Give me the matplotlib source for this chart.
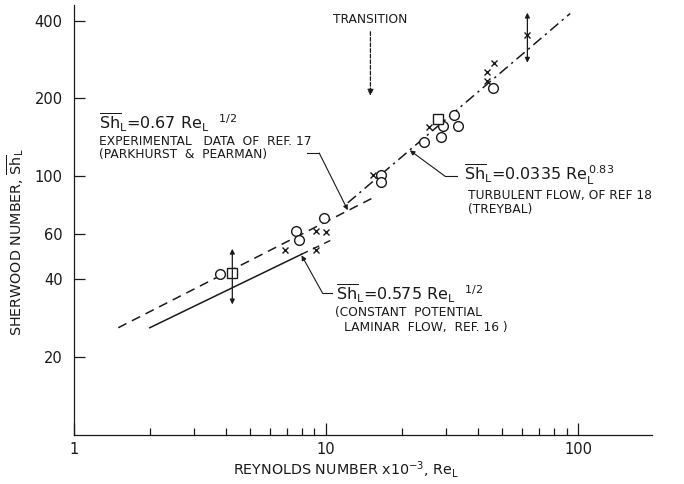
import matplotlib
matplotlib.use("Agg")
import matplotlib.pyplot as plt
from matplotlib.ticker import FixedLocator, NullFormatter

plt.rcParams["font.family"] = ["DejaVu Sans"]
plt.rcParams["mathtext.fontset"] = "dejavusans"

# data (Re in units of 10^3)
circle_re = [3.8, 7.6, 7.8, 9.8, 16.5, 16.5, 24.4, 28.7, 29.2, 32.2, 33.3, 46.0]
circle_sh = [42, 61.5, 57, 69, 101, 95, 136, 142, 157, 173, 156, 220]
cross_re = [6.9, 9.1, 9.1, 10.0, 15.3, 25.5, 43.3, 43.3, 46.5, 62.9]
cross_sh = [52, 52, 61.5, 61, 101, 155, 234, 252, 273, 353]
square_re = [4.25, 27.7]
square_sh = [42.5, 166]

# scatter ranges shown as double arrows
range_re = [4.25, 62.9]
range_lo = [32, 275]
range_hi = [52.5, 429]

# correlation lines (end points)
exp_re = [1.5, 15.5]
exp_sh = [26, 83]
lam_re = [2.0, 8.0]
lam_sh = [26, 50]
lam_ext_re = [8.0, 10.4]
lam_ext_sh = [50, 56.5]
turb_re = [12.2, 93]
turb_sh = [79, 426]

transition_re = 15.0

xticks_major = [1, 10, 100]
xticks_minor = [2, 3, 4, 5, 6, 7, 8, 9, 20, 30, 40, 50, 60, 70, 80, 90]
yticks = [20, 40, 60, 100, 200, 400]

ink = "#1a1a1a"
small = 8.8

fig = plt.figure(figsize=(6.84, 4.84), dpi=100)
ax = fig.add_axes([0.108, 0.101, 0.845, 0.889])
ax.set_xscale("log")
ax.set_yscale("log")
ax.set_xlim(1, 196)
ax.set_ylim(10, 460)

ax.plot(exp_re, exp_sh, color=ink, lw=1.1, dashes=(6, 4))
ax.plot(lam_re, lam_sh, color=ink, lw=1.1)
ax.plot(lam_ext_re, lam_ext_sh, color=ink, lw=1.0, dashes=(5, 4))
ax.plot(turb_re, turb_sh, color=ink, lw=1.1, dashes=(7, 3, 1.5, 3))

ax.plot(circle_re, circle_sh, "o", ms=7, mfc="white", mec=ink, mew=1.0)
ax.plot(square_re, square_sh, "s", ms=7, mfc="white", mec=ink, mew=1.0)
ax.plot(cross_re, cross_sh, "x", ms=5, color=ink, mew=1.0)

for r, lo, hi in zip(range_re, range_lo, range_hi):
    ax.annotate("", xy=(r, hi), xytext=(r, lo),
                arrowprops=dict(arrowstyle="<|-|>", color=ink, lw=0.9,
                                mutation_scale=7, shrinkA=0, shrinkB=0))

# transition marker
ax.annotate("", xy=(transition_re, 205), xytext=(transition_re, 362),
            arrowprops=dict(arrowstyle="-|>", color=ink, lw=0.9, ls=(0, (3, 1.5)),
                            mutation_scale=9, shrinkA=0, shrinkB=0))
ax.text(transition_re, 403, "TRANSITION", fontsize=8.8, ha="center", va="center",
        color=ink)

sh = r"$\overline{\mathrm{Sh}}_\mathrm{L}$"
re = r"$\mathrm{Re}_\mathrm{L}$"

# label for 0.67 line
ax.text(1.26, 161, sh + "=0.67 " + re + r"$\ \ ^{1/2}$", fontsize=11.5, va="center",
        color=ink)
ax.text(1.26, 136, "EXPERIMENTAL   DATA  OF  REF. 17",
        fontsize=small, va="center", color=ink)
ax.text(1.26, 121.5, "(PARKHURST  &  PEARMAN)", fontsize=small, va="center",
        color=ink)
ax.plot([8.4, 9.4], [123, 123], color=ink, lw=0.8)
ax.annotate("", xy=(12.2, 74), xytext=(9.4, 123),
            arrowprops=dict(arrowstyle="-|>", color=ink, lw=0.8,
                            mutation_scale=7, shrinkA=0, shrinkB=0))

# label for turbulent line
ax.text(35.4, 101, sh + "=0.0335 " + r"$\mathrm{Re}_\mathrm{L}^{\,0.83}$",
        fontsize=11.5, va="center", color=ink)
ax.text(36.5, 84, "TURBULENT FLOW, OF REF 18",
        fontsize=small, va="center", color=ink)
ax.text(36.5, 74.5, "(TREYBAL)", fontsize=small, va="center", color=ink)
ax.plot([29.7, 33.2], [100, 100], color=ink, lw=0.8)
ax.annotate("", xy=(21.5, 126), xytext=(29.7, 100),
            arrowprops=dict(arrowstyle="-|>", color=ink, lw=0.8,
                            mutation_scale=7, shrinkA=0, shrinkB=0))

# label for laminar line
ax.text(11.0, 35.3, sh + "=0.575 " + re + r"$\ \ ^{1/2}$", fontsize=11.5,
        va="center", color=ink)
ax.text(10.9, 29.9, "(CONSTANT  POTENTIAL", fontsize=small, va="center",
        color=ink)
ax.text(11.8, 26.0, "LAMINAR  FLOW,  REF. 16 )",
        fontsize=small, va="center", color=ink)
ax.plot([9.7, 10.6], [35.3, 35.3], color=ink, lw=0.8)
ax.annotate("", xy=(8.0, 49.5), xytext=(9.7, 35.3),
            arrowprops=dict(arrowstyle="-|>", color=ink, lw=0.8,
                            mutation_scale=7, shrinkA=0, shrinkB=0))

# axes styling
for s in ["top", "right"]:
    ax.spines[s].set_visible(False)
for s in ["left", "bottom"]:
    ax.spines[s].set_linewidth(0.9)
    ax.spines[s].set_color(ink)

ax.xaxis.set_major_locator(FixedLocator(xticks_major))
ax.xaxis.set_minor_locator(FixedLocator(xticks_minor))
ax.xaxis.set_minor_formatter(NullFormatter())
ax.set_xticklabels([str(v) for v in xticks_major])
ax.yaxis.set_major_locator(FixedLocator(yticks))
ax.yaxis.set_minor_locator(FixedLocator([]))
ax.set_yticklabels([str(v) for v in yticks])
ax.tick_params(axis="both", which="major", direction="in", length=8, width=0.9,
               labelsize=10.5, colors=ink, pad=8)
ax.tick_params(axis="x", which="minor", direction="in", length=5, width=0.9,
               colors=ink)
ax.tick_params(axis="x", which="major", length=9, pad=5)

fig.text(0.506, 0.029, "REYNOLDS NUMBER x10$^{-3}$, " + re, fontsize=10.3,
         ha="center", va="center", color=ink)
fig.text(0.023, 0.5, "SHERWOOD NUMBER, " + sh, fontsize=10.3, rotation=90,
         ha="center", va="center", color=ink)

fig.savefig("out.png", dpi=100)
